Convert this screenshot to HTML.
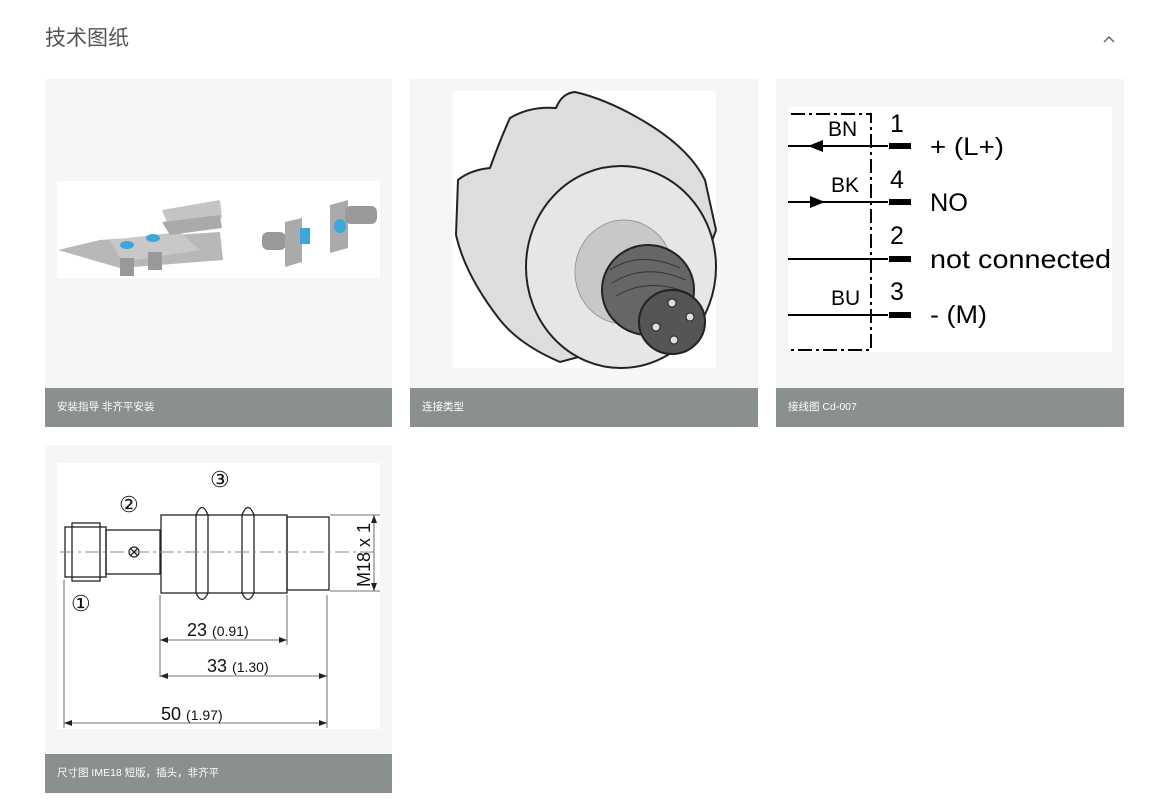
<!DOCTYPE html>
<html><head><meta charset="utf-8"><style>
body{margin:0;width:1163px;height:805px;background:#fff;position:relative;overflow:hidden;font-family:"Liberation Sans","Noto Sans CJK SC",sans-serif}
.t{position:absolute;left:45px;top:22px;font-size:21px;color:#555}
.card{position:absolute;background:#f5f6f6;width:347px;height:348px}
.cap{position:absolute;left:0;bottom:0;width:100%;height:39px;background:#8a8f8f;color:#fff;font-size:10.5px;line-height:39px;padding-left:12px;box-sizing:border-box}
svg{position:absolute;left:0;top:0}
</style></head><body>
<div class="t">技术图纸</div>
<div class="card" style="left:45px;top:79px"><div class="cap">安装指导 非齐平安装</div></div>
<div class="card" style="left:410px;top:79px;width:348px"><div class="cap">连接类型</div></div>
<div class="card" style="left:776px;top:79px;width:348px"><div class="cap">接线图 Cd-007</div></div>
<div class="card" style="left:45px;top:445px"><div class="cap">尺寸图 IME18 短版，插头，非齐平</div></div>
<svg width="1163" height="805" font-family="Liberation Sans, sans-serif">
<polyline points="1104,42 1109,37 1114,42" fill="none" stroke="#666" stroke-width="1.5"/>
<!-- card1 image -->
<rect x="57" y="181" width="323" height="97" fill="#fff"/>
<polygon points="58,250 100,240 220,232 223,260 120,268" fill="#b8b8b8"/>
<polygon points="110,240 180,232 200,250 122,262" fill="#c8c8c8"/>
<polygon points="162,210 220,200 222,218 168,225" fill="#c4c4c4"/>
<polygon points="162,222 220,215 222,228 170,235" fill="#aaa"/>
<rect x="120" y="258" width="14" height="18" fill="#999"/>
<rect x="148" y="252" width="14" height="18" fill="#999"/>
<ellipse cx="127" cy="245" rx="7" ry="4" fill="#3aa8d8"/>
<ellipse cx="153" cy="238" rx="7" ry="4" fill="#3aa8d8"/>
<rect x="262" y="232" width="24" height="18" rx="6" fill="#999"/>
<polygon points="285,222 302,218 302,262 285,267" fill="#aaa"/>
<rect x="300" y="228" width="10" height="16" fill="#3aa8d8"/>
<polygon points="330,205 348,200 348,248 330,253" fill="#aaa"/>
<rect x="345" y="206" width="32" height="18" rx="6" fill="#999"/>
<ellipse cx="340" cy="226" rx="6" ry="7" fill="#3aa8d8"/>
<!-- card2 image -->
<rect x="453" y="91" width="263" height="277" fill="#fff"/>
<path d="M458,180 Q470,170 490,168 Q500,140 510,118 Q530,106 556,108 Q562,93 575,92 Q610,100 650,125 Q690,150 705,180 L716,230 L680,330 L560,362 Q520,345 500,320 Q465,275 456,235 Z" fill="#ddd" stroke="#222" stroke-width="2"/>
<ellipse cx="621" cy="267" rx="95" ry="101" fill="#e6e6e6" stroke="#222" stroke-width="2"/>
<ellipse cx="624" cy="272" rx="49" ry="52" fill="#c8c8c8" stroke="#999"/>
<ellipse cx="648" cy="290" rx="46" ry="45" fill="#666" stroke="#222" stroke-width="2"/>
<g stroke="#333" fill="none"><path d="M610,270 Q640,250 680,268"/><path d="M612,283 Q645,262 686,280"/><path d="M616,296 Q650,276 690,294"/></g>
<ellipse cx="672" cy="322" rx="33" ry="32" fill="#555" stroke="#222" stroke-width="2"/>
<g fill="#ddd" stroke="#222"><circle cx="672" cy="303" r="4"/><circle cx="690" cy="317" r="4"/>
<circle cx="656" cy="327" r="4"/><circle cx="674" cy="340" r="4"/></g>
<!-- card3 image -->
<rect x="788" y="107" width="324" height="245" fill="#fff"/>
<g stroke="#000" stroke-width="2" fill="none">
<path d="M791,114 H871 V350 H791" stroke-dasharray="14,4,3,4"/>
<line x1="788" y1="146" x2="888" y2="146"/><line x1="788" y1="202" x2="888" y2="202"/>
<line x1="788" y1="259" x2="888" y2="259"/><line x1="788" y1="315" x2="888" y2="315"/>
</g>
<g fill="#000">
<rect x="889" y="143" width="22" height="6"/><rect x="889" y="199" width="22" height="6"/>
<rect x="889" y="256" width="22" height="6"/><rect x="889" y="312" width="22" height="6"/>
<polygon points="808,146 823,140 823,152"/><polygon points="825,202 810,196 810,208"/>
</g>
<g font-size="21" fill="#000">
<text x="828" y="136">BN</text><text x="831" y="192">BK</text><text x="831" y="305">BU</text>
<text x="890" y="132" font-size="25">1</text><text x="890" y="188" font-size="25">4</text>
<text x="890" y="244" font-size="25">2</text><text x="890" y="300" font-size="25">3</text>
<text x="930" y="155" font-size="25" textLength="74" lengthAdjust="spacingAndGlyphs">+ (L+)</text><text x="930" y="211" font-size="25" textLength="38" lengthAdjust="spacingAndGlyphs">NO</text>
<text x="930" y="268" font-size="26" textLength="181" lengthAdjust="spacingAndGlyphs">not connected</text><text x="930" y="323" font-size="25" textLength="57" lengthAdjust="spacingAndGlyphs">- (M)</text>
</g>
<!-- card4 image -->
<rect x="57" y="463" width="323" height="266" fill="#fff"/>
<g stroke="#222" stroke-width="1.3" fill="none">
<rect x="65" y="527" width="41" height="50"/><rect x="72" y="523" width="28" height="58"/>
<rect x="106" y="530" width="54" height="44"/>
<rect x="161" y="515" width="126" height="78"/>
<rect x="287" y="517" width="42" height="73"/>
<path d="M196,515 Q202,500 208,515 V593 Q202,606 196,593 Z"/>
<path d="M242,515 Q248,500 254,515 V593 Q248,606 242,593 Z"/>
<circle cx="134" cy="552" r="5"/>
<line x1="131" y1="549" x2="137" y2="555"/><line x1="137" y1="549" x2="131" y2="555"/>
</g>
<line x1="60" y1="552" x2="376" y2="552" stroke="#888" stroke-dasharray="14,4,3,4"/>
<g stroke="#444" stroke-width="0.8">
<line x1="64" y1="580" x2="64" y2="728"/><line x1="160" y1="595" x2="160" y2="677"/>
<line x1="287" y1="595" x2="287" y2="645"/><line x1="327" y1="595" x2="327" y2="728"/>
<line x1="330" y1="515" x2="380" y2="515"/><line x1="330" y1="591" x2="380" y2="591"/>
<line x1="374" y1="515" x2="374" y2="591"/>
<line x1="160" y1="640" x2="287" y2="640"/><line x1="160" y1="676" x2="327" y2="676"/>
<line x1="64" y1="723" x2="327" y2="723"/>
</g>
<g fill="#222">
<polygon points="160,640 168,637 168,643"/><polygon points="287,640 279,637 279,643"/>
<polygon points="160,676 168,673 168,679"/><polygon points="327,676 319,673 319,679"/>
<polygon points="64,723 72,720 72,726"/><polygon points="327,723 319,720 319,726"/>
<polygon points="374,515 371,523 377,523"/><polygon points="374,591 371,583 377,583"/>
</g>
<g font-size="18" fill="#111">
<text x="187" y="636">23 <tspan font-size="14">(0.91)</tspan></text>
<text x="207" y="672">33 <tspan font-size="14">(1.30)</tspan></text>
<text x="161" y="720">50 <tspan font-size="14">(1.97)</tspan></text>
<text x="370" y="587" transform="rotate(-90 370 587)">M18 x 1</text>
<text x="210" y="487" font-size="22">③</text><text x="119" y="512" font-size="22">②</text>
<text x="71" y="611" font-size="22">①</text>
</g>
</svg>
</body></html>
